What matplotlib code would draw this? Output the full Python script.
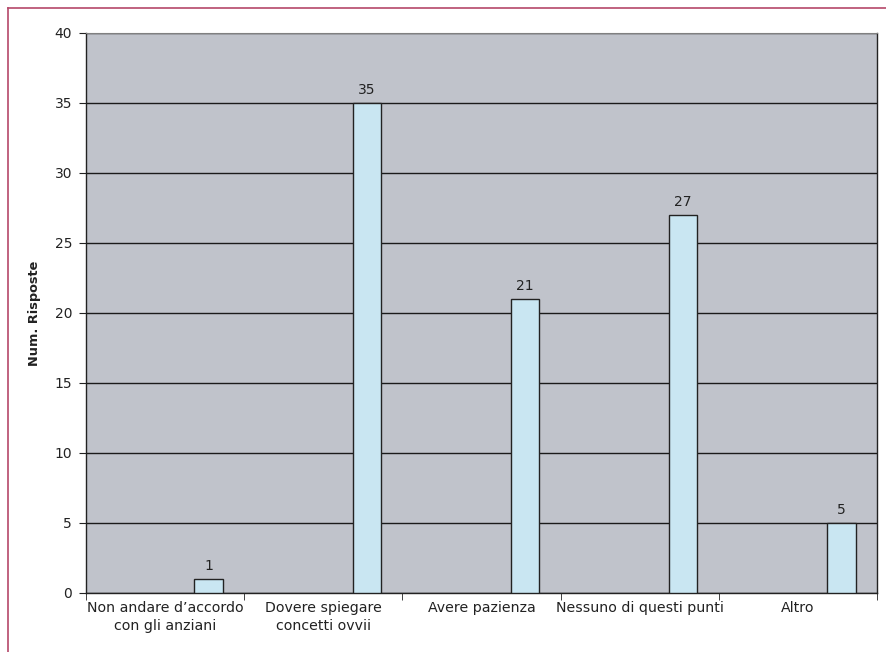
import matplotlib
matplotlib.use("Agg")
import matplotlib.pyplot as plt
from matplotlib.lines import Line2D
import numpy as np

categories = ["Non andare d\u2019accordo\ncon gli anziani", "Dovere spiegare\nconcetti ovvii",
              "Avere pazienza", "Nessuno di questi punti", "Altro"]
values = [1, 35, 21, 27, 5]

W, H = 886, 652
fig = plt.figure(figsize=(W / 100, H / 100), dpi=100)
ax = fig.add_axes([86 / W, 1 - 593 / H, (877 - 86) / W, (593 - 33) / H])
ax.set_facecolor("#c0c3cb")

# bars sit right of the slot centre (excel style, second empty series)
x = np.arange(len(categories))
bars = ax.bar(x + 0.275, values, width=0.18, color="#c9e6f2", edgecolor="#222222",
              linewidth=1.0, zorder=3)
for b, v in zip(bars, values):
    ax.text(b.get_x() + b.get_width() / 2, v + 0.4, str(v), ha="center", va="bottom",
            fontsize=10, color="#222222")

ax.set_xlim(-0.5, len(categories) - 0.5)
ax.set_ylim(0, 40)
ax.set_yticks(range(0, 41, 5))
ax.yaxis.grid(True, color="#1a1a1a", linewidth=1.0, zorder=1)
ax.set_axisbelow(True)

ax.set_xticks(x)
ax.set_xticklabels(categories, fontsize=10.2, color="#222222", linespacing=1.3)
ax.tick_params(axis="x", length=0, pad=6)
ax.set_xticks(np.arange(-0.5, len(categories)), minor=True)
ax.tick_params(axis="x", which="minor", length=5, color="#222222")
ax.tick_params(axis="y", length=5, labelsize=10, colors="#222222", pad=5)

ax.set_ylabel("Num. Risposte", fontsize=9.3, fontweight="bold", color="#222222", labelpad=10)

for s in ["left", "bottom", "right"]:
    ax.spines[s].set_color("#222222")
    ax.spines[s].set_linewidth(1.0)
ax.spines["top"].set_color("#808080")

# pink frame of the page
fig.add_artist(Line2D([8 / W, 8 / W], [0, 1 - 8 / H], color="#b5486a", linewidth=1.2,
                      transform=fig.transFigure))
fig.add_artist(Line2D([8 / W, 1], [1 - 8 / H, 1 - 8 / H], color="#b5486a", linewidth=1.2,
                      transform=fig.transFigure))

fig.savefig("out.png", dpi=100)
